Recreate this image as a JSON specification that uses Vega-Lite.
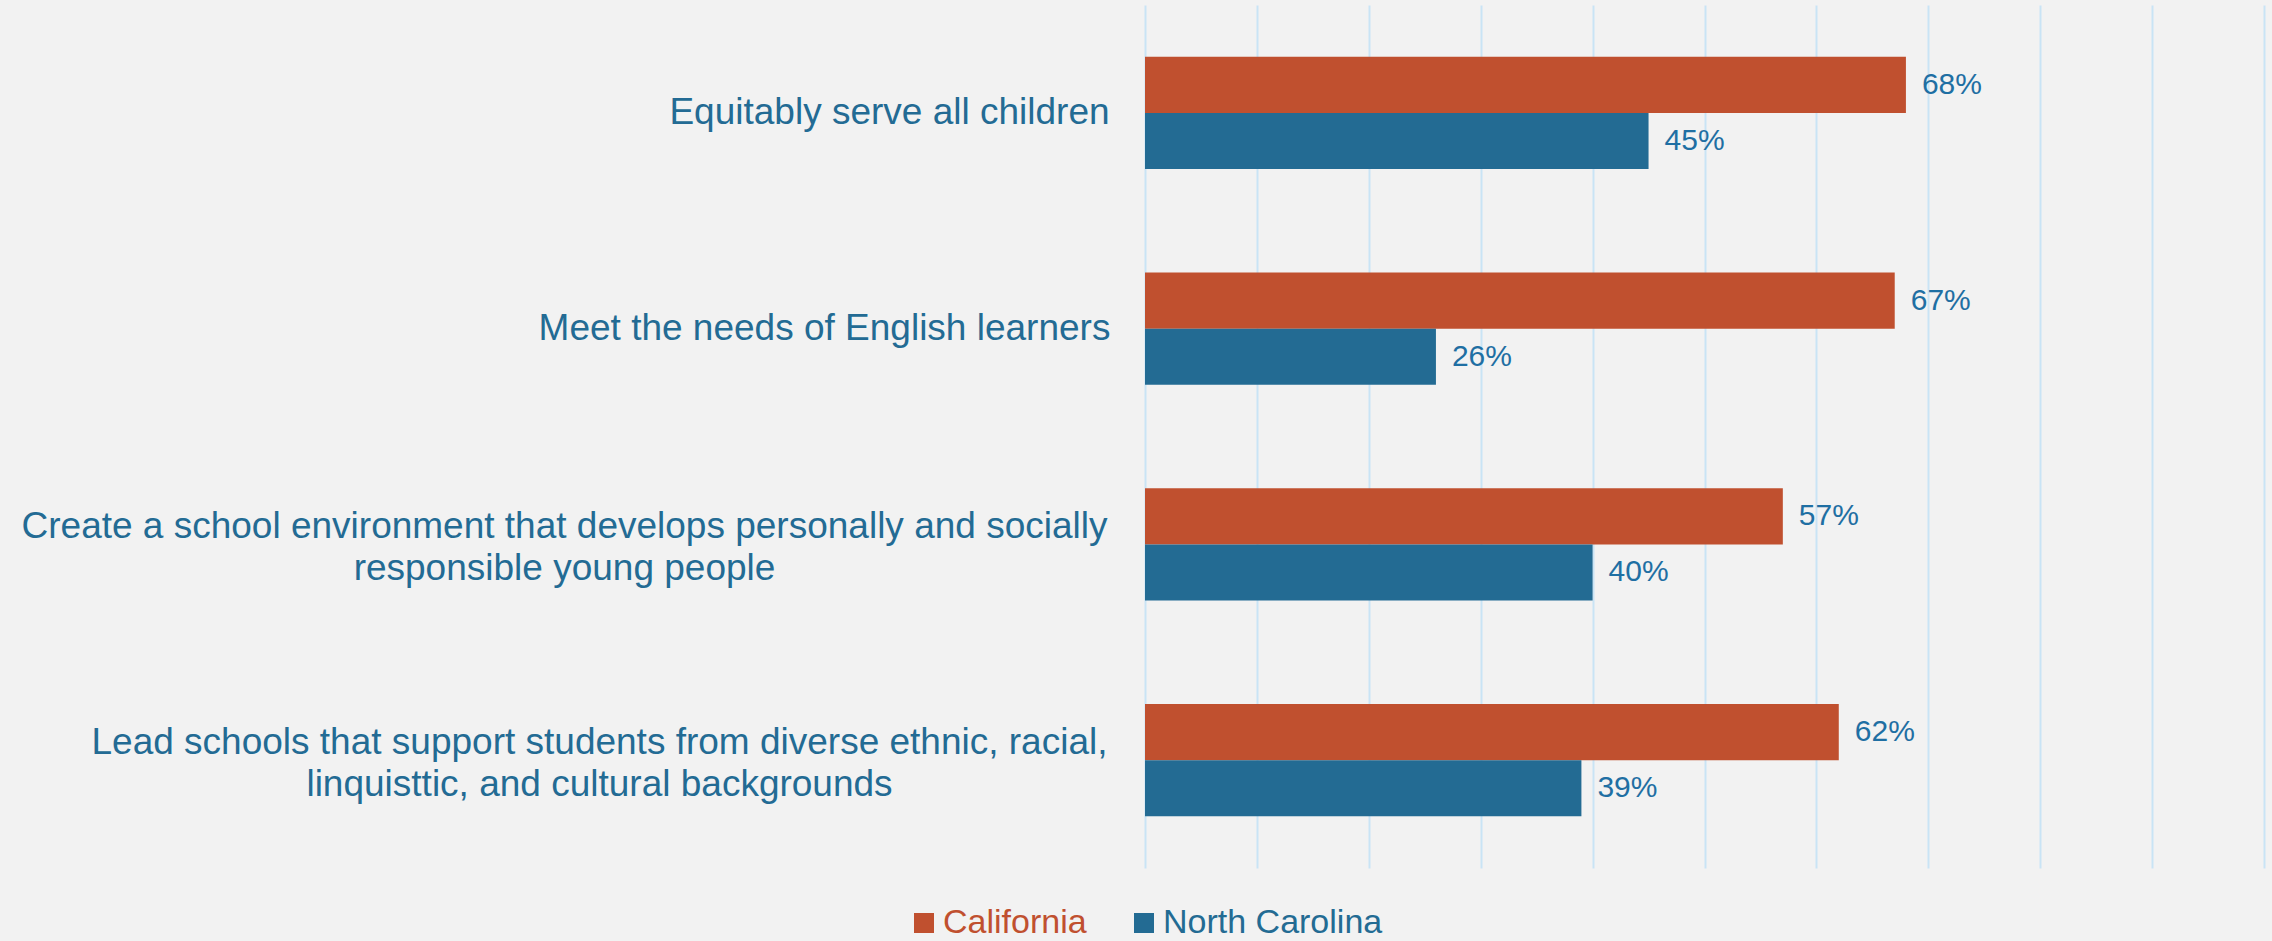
{
  "$schema": "https://vega.github.io/schema/vega-lite/v6.json",
  "width": 1119,
  "height": 863,
  "autosize": {"type": "none"},
  "padding": {"left": 1145, "top": 5, "right": 8, "bottom": 73},
  "background": "#f2f2f2",
  "config": {"view": {"stroke": null}, "font": "Liberation Sans"},
  "data": {
    "values": [
      {"item": "Equitably serve all children", "state": "California", "value": 0.68},
      {"item": "Equitably serve all children", "state": "North Carolina", "value": 0.45},
      {"item": "Meet the needs of English learners", "state": "California", "value": 0.67},
      {"item": "Meet the needs of English learners", "state": "North Carolina", "value": 0.26},
      {"item": "Create a school environment that develops personally and socially|responsible young people", "state": "California", "value": 0.57},
      {"item": "Create a school environment that develops personally and socially|responsible young people", "state": "North Carolina", "value": 0.40},
      {"item": "Lead schools that support students from diverse ethnic, racial,|linquisttic, and cultural backgrounds", "state": "California", "value": 0.62},
      {"item": "Lead schools that support students from diverse ethnic, racial,|linquisttic, and cultural backgrounds", "state": "North Carolina", "value": 0.39}
    ]
  },
  "encoding": {
    "y": {
      "field": "item",
      "type": "nominal",
      "sort": null,
      "title": null,
      "scale": {"paddingInner": 0.48, "paddingOuter": 0.24},
      "axis": {
        "domain": false,
        "ticks": false,
        "tickSize": 0,
        "labelFont": "Liberation Sans",
        "labelFontSize": 37,
        "labelColor": "#236b94",
        "labelLimit": 1200,
        "labelLineHeight": 42,
        "labelAlign": "center",
        "labelBaseline": "middle",
        "labelExpr": "split(datum.label, '|')",
        "labelOffset": {
          "condition": [
            {"test": "datum.value === 'Equitably serve all children'", "value": 0},
            {"test": "datum.value === 'Meet the needs of English learners'", "value": 0}
          ],
          "value": -17
        },
        "labelPadding": {
          "condition": [
            {"test": "datum.value === 'Equitably serve all children'", "value": 256},
            {"test": "datum.value === 'Meet the needs of English learners'", "value": 321},
            {"test": "datum.value === 'Create a school environment that develops personally and socially|responsible young people'", "value": 581}
          ],
          "value": 546
        }
      }
    },
    "yOffset": {"field": "state", "type": "nominal", "sort": ["California", "North Carolina"]},
    "x": {
      "field": "value",
      "type": "quantitative",
      "title": null,
      "scale": {"domain": [0, 1]},
      "axis": {
        "values": [0, 0.1, 0.2, 0.3, 0.4, 0.5, 0.6, 0.7, 0.8, 0.9, 1.0],
        "grid": true,
        "gridColor": "#c9e4f5",
        "gridWidth": 2,
        "domain": false,
        "ticks": false,
        "labels": false
      }
    }
  },
  "layer": [
    {
      "mark": {"type": "bar"},
      "encoding": {
        "color": {
          "field": "state",
          "type": "nominal",
          "scale": {"domain": ["California", "North Carolina"], "range": ["#c0502f", "#236b93"]},
          "legend": {
            "title": null,
            "orient": "none",
            "direction": "horizontal",
            "legendX": -238,
            "legendY": 901,
            "symbolType": "square",
            "symbolSize": 400,
            "symbolStrokeWidth": 0,
            "labelFont": "Liberation Sans",
            "labelFontSize": 34,
            "labelLimit": 500,
            "labelOffset": 2,
            "columnPadding": 40,
            "labelColor": "#236b93",
            "encode": {
              "labels": {"update": {"fill": {"signal": "scale('color', datum.value)"}}}
            }
          }
        }
      }
    },
    {
      "mark": {"type": "text", "align": "left", "baseline": "middle", "dx": 16, "fontSize": 30, "font": "Liberation Sans", "color": "#1f6fa3"},
      "encoding": {
        "text": {"field": "value", "type": "quantitative", "format": ".0%"}
      }
    }
  ]
}
